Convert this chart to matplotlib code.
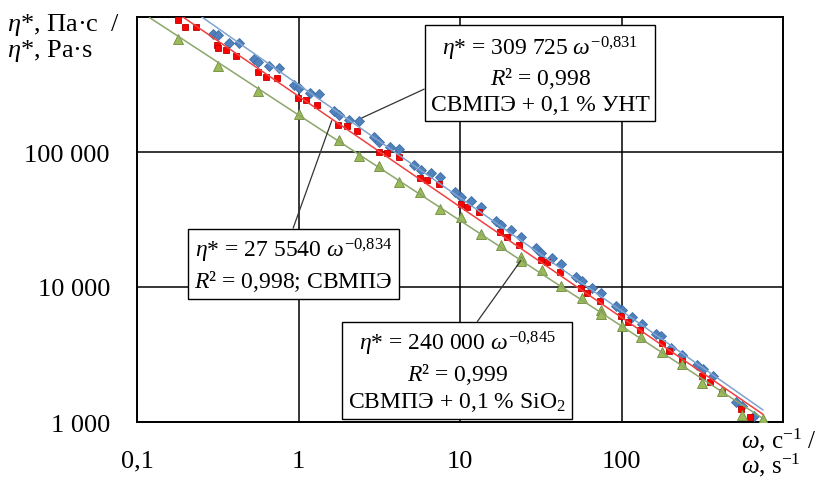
import numpy as np
import matplotlib
matplotlib.use("Agg")
import matplotlib.pyplot as plt

plt.rcParams['font.family'] = ['Liberation Serif', 'DejaVu Serif']
plt.rcParams['mathtext.fontset'] = 'custom'
plt.rcParams['mathtext.rm'] = 'Liberation Serif'
plt.rcParams['mathtext.it'] = 'Liberation Serif:italic'

# СВМПЭ + 0,1 % УНТ (blue diamonds)
w_cnt = [0.296, 0.316, 0.371, 0.428, 0.530, 0.564, 0.657, 0.761, 0.938, 1.007,
         1.178, 1.345, 1.652, 1.774, 2.064, 2.38, 2.935, 3.15, 3.687, 4.21,
         5.21, 5.71, 6.61, 7.57, 9.31, 10.1, 11.65, 13.49, 16.71, 17.95,
         20.6, 23.8, 29.4, 31.7, 37.0, 42.4, 52.3, 56.9, 65.4, 74.7,
         92.5, 100.7, 116.1, 133.4, 162.4, 175.6, 201.7, 236, 292, 318,
         367, 512, 555, 661]
eta_cnt = [742000, 736000, 639000, 637000, 486000, 467000, 430000, 421000, 313000, 300000,
           275000, 268000, 200000, 188000, 173500, 168800, 128500, 119200, 109500, 105800,
           80100, 73600, 69900, 65800, 50800, 46700, 43600, 39300, 30800, 28600,
           26600, 23600, 19350, 18000, 16480, 14730, 11800, 11130, 9780, 8980,
           7270, 6790, 6000, 5320, 4460, 4300, 3550, 3150, 2660, 2470,
           2180, 1400, 1325, 1108]

# СВМПЭ (red squares)
w_pe = [0.179, 0.198, 0.232, 0.312, 0.319, 0.354, 0.413, 0.559, 0.627, 0.733,
        0.997, 1.105, 1.307, 1.764, 1.989, 2.312, 3.137, 3.517, 4.173, 5.69,
        6.22, 7.44, 10.1, 11.0, 13.17, 17.69, 19.63, 23.3, 31.96, 34.7,
        41.6, 55.9, 61.4, 73.6, 99.3, 110.2, 130.2, 176.9, 197.7, 236,
        316.4, 353, 417, 550, 625]
eta_pe = [955000, 839000, 839000, 620000, 586000, 565000, 517000, 393000, 362000, 355000,
          252500, 241500, 223000, 158500, 155000, 142300, 100500, 97800, 91800, 64200,
          62000, 57900, 41200, 39300, 35750, 25700, 23350, 20500, 15850, 15240,
          12850, 9780, 9030, 7915, 6070, 5530, 4830, 3850, 3375, 2830,
          2200, 1968, 1668, 1248, 1098]

# СВМПЭ + 0,1 % SiO2 (green triangles)
w_sio = [0.179, 0.317, 0.564, 1.0, 1.789, 2.38, 3.165, 4.21, 5.69, 7.57,
         10.1, 13.44, 17.95, 23.86, 23.86, 32.05, 42.0, 56.7, 74.7, 74.7,
         100.3, 132.1, 177.4, 236, 316.4, 417, 560, 755]
eta_sio = [687000, 434000, 283000, 189600, 122700, 93400, 79400, 59650, 50300, 37800,
           32800, 24500, 20500, 16680, 15580, 13360, 10170, 8290, 6755, 6310,
           5185, 4262, 3283, 2690, 1945, 1705, 1127, 1052]

x_ticks = [0.1, 1, 10, 100, 1000]
x_labels = ['0,1', '1', '10', '100', '']
y_ticks = [1000, 10000, 100000, 1000000]
y_labels = ['1 000', '10 000', '100 000', '']

series = [
    (w_cnt, eta_cnt, 'D', 5.5, '#4F81BD', '#3F6FA8', '#7EA3D1'),
    (w_pe, eta_pe, 's', 5.0, '#FF0000', '#C00000', '#F04040'),
    (w_sio, eta_sio, '^', 6.5, '#9BBB59', '#6E8B3D', '#8CA66A'),
]

fig = plt.figure(figsize=(8.21, 4.89), dpi=100)
ax = fig.add_axes([137/821, 66/489, 646/821, 405/489])
ax.set_xscale('log')
ax.set_yscale('log')
ax.set_xlim(0.1, 1000)
ax.set_ylim(1000, 1000000)

w_line = np.logspace(np.log10(0.12), np.log10(750), 200)
for w, eta, mk, ms, fc, ec, lc in series:
    ax.plot(w, eta, linestyle='none', marker=mk, markersize=ms,
            markerfacecolor=fc, markeredgecolor=ec, markeredgewidth=0.6, zorder=3)
    # power-law trendline fitted in log-log
    k, b = np.polyfit(np.log10(w), np.log10(eta), 1)
    ax.plot(w_line, 10**b * w_line**k, color=lc, lw=1.1, zorder=4)

ax.set_xticks(x_ticks)
ax.set_xticklabels(x_labels)
ax.set_yticks(y_ticks)
ax.set_yticklabels(y_labels)
ax.minorticks_off()
ax.tick_params(length=0, labelsize=19)
ax.tick_params(axis='x', pad=20)
ax.tick_params(axis='y', pad=19.5)
ax.grid(True, which='major', color='black', lw=1.1)
for s in ax.spines.values():
    s.set_linewidth(1.4)
    s.set_color('black')

fig.text(0.008, 0.975, '$\\eta$*, Па·с  /\n$\\eta$*, Pa·s', fontsize=19,
         ha='left', va='top', linespacing=1.0)
fig.text(0.903, 0.128, '$\\omega$, c$^{-1}$ /\n$\\omega$, s$^{-1}$', fontsize=18,
         ha='left', va='top', linespacing=0.9)

box = dict(boxstyle='square,pad=0.25', fc='white', ec='black', lw=1.0)
arrow = dict(arrowstyle='-', color='#333333', lw=0.9, shrinkA=0, shrinkB=0)

ax.annotate('$\\eta$* = 309 725 $\\omega^{-0{,}831}$\n$R$² = 0,998\nСВМПЭ + 0,1 % УНТ',
            xy=(2.462, 178600), xycoords='data',
            xytext=(540/821, 1 - 75/489), textcoords='figure fraction',
            ha='center', va='center', fontsize=17, linespacing=1.2, bbox=box,
            arrowprops=dict(arrow, relpos=(0.0, 0.35)), zorder=6)
ax.annotate('$\\eta$* = 27 5540 $\\omega^{-0{,}834}$\n$R$² = 0,998; СВМПЭ',
            xy=(1.606, 170600), xycoords='data',
            xytext=(293.5/821, 1 - 265.5/489), textcoords='figure fraction',
            ha='center', va='center', fontsize=17, linespacing=1.2, bbox=box,
            arrowprops=dict(arrow, relpos=(0.484, 1.0)), zorder=6)
ax.annotate('$\\eta$* = 240 000 $\\omega^{-0{,}845}$\n$R$² = 0,999\nСВМПЭ + 0,1 % SiO$_2$',
            xy=(23.76, 15660), xycoords='data',
            xytext=(457/821, 1 - 372/489), textcoords='figure fraction',
            ha='center', va='center', fontsize=17, linespacing=1.2, bbox=box,
            arrowprops=dict(arrow, relpos=(0.568, 1.0)), zorder=6)

fig.savefig('out.png', dpi=100)
